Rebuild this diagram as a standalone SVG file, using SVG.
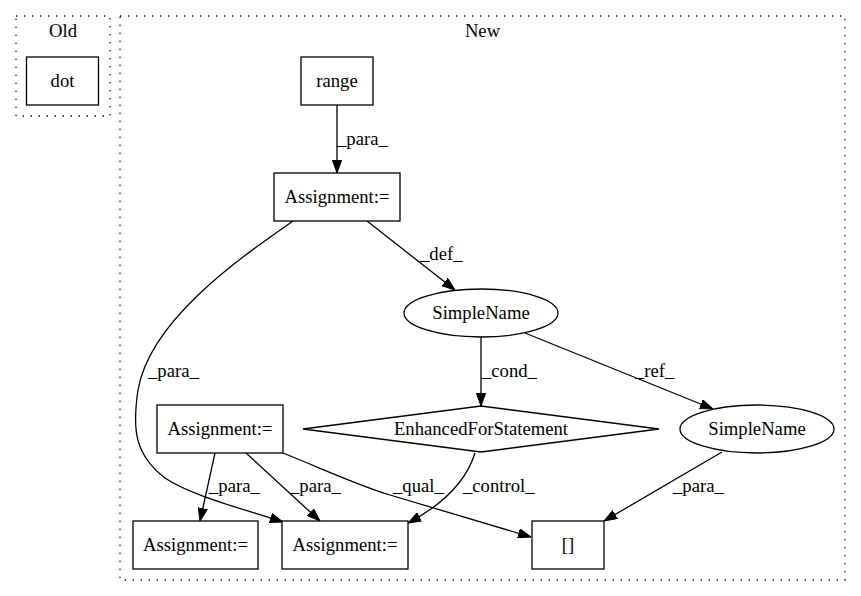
<svg xmlns="http://www.w3.org/2000/svg" width="861" height="596" viewBox="0 0 861 596">
<style>
text{font-family:"Liberation Serif","Times New Roman",serif;font-size:18.67px;fill:#000}
.c{text-anchor:middle}
.n{fill:#fff;stroke:#000;stroke-width:1.3}
.cl{fill:none;stroke:#000;stroke-width:1.3;stroke-dasharray:1.3,6.7}
.e{fill:none;stroke:#000;stroke-width:1.3}
</style>
<defs>
<marker id="ah" markerWidth="13" markerHeight="10" refX="13" refY="5" orient="auto" markerUnits="userSpaceOnUse">
<path d="M0,0.3 L13,5 L0,9.7 z" fill="#000" stroke="#000"/>
</marker>
</defs>
<rect width="861" height="596" fill="#fff"/>
<g id="cluster_old">
<rect class="cl" x="16" y="16" width="94" height="100"/>
<text class="c" x="63" y="37">Old</text>
</g>
<g id="cluster_new">
<rect class="cl" x="120" y="16" width="725" height="564"/>
<text class="c" x="482.5" y="37">New</text>
</g>
<g id="connectors">
<path class="e" marker-end="url(#ah)" d="M337,105 L337,173"/>
<text x="337" y="145">_para_</text>
<path class="e" marker-end="url(#ah)" d="M367,221 L455,290"/>
<text x="420" y="260">_def_</text>
<path class="e" marker-end="url(#ah)" d="M293,221 C240,258 150,320 138,390 C132,430 135,455 165,478 C190,495 240,508 283,522"/>
<text x="148" y="377">_para_</text>
<path class="e" marker-end="url(#ah)" d="M481,337 L481,406"/>
<text x="482" y="377">_cond_</text>
<path class="e" marker-end="url(#ah)" d="M525,333 L713,409"/>
<text x="635" y="377">_ref_</text>
<path class="e" marker-end="url(#ah)" d="M475,453 C466,482 442,505 408,523"/>
<text x="463" y="492">_control_</text>
<path class="e" marker-end="url(#ah)" d="M215,453 L200,521"/>
<text x="209" y="492">_para_</text>
<path class="e" marker-end="url(#ah)" d="M246,453 L320,521"/>
<text x="290" y="492">_para_</text>
<path class="e" marker-end="url(#ah)" d="M283,453 C330,472 360,486 390,495 L531,537"/>
<text x="393" y="492">_qual_</text>
<path class="e" marker-end="url(#ah)" d="M722,452 L604,521"/>
<text x="673" y="492">_para_</text>
</g>
<g id="node_dot">
<rect class="n" x="26.5" y="57" width="72" height="48"/>
<text class="c" x="62.5" y="87">dot</text>
</g>
<g id="node_range">
<rect class="n" x="301" y="57" width="72" height="48"/>
<text class="c" x="337" y="87">range</text>
</g>
<g id="node_assign1">
<rect class="n" x="274" y="173" width="126" height="48"/>
<text class="c" x="337" y="203">Assignment:=</text>
</g>
<g id="node_simplename1">
<ellipse class="n" cx="481" cy="313" rx="77" ry="24"/>
<text class="c" x="481" y="319">SimpleName</text>
</g>
<g id="node_enhancedfor">
<polygon class="n" points="481,406 659,429 481,452 303,429"/>
<text class="c" x="481" y="435">EnhancedForStatement</text>
</g>
<g id="node_simplename2">
<ellipse class="n" cx="757" cy="429" rx="77" ry="24"/>
<text class="c" x="757" y="435">SimpleName</text>
</g>
<g id="node_assign2">
<rect class="n" x="157" y="405" width="126" height="48"/>
<text class="c" x="220" y="435">Assignment:=</text>
</g>
<g id="node_assign3">
<rect class="n" x="133" y="521" width="125" height="48"/>
<text class="c" x="195.5" y="551">Assignment:=</text>
</g>
<g id="node_assign4">
<rect class="n" x="282" y="521" width="126" height="48"/>
<text class="c" x="345" y="551">Assignment:=</text>
</g>
<g id="node_index">
<rect class="n" x="532" y="521" width="72" height="48"/>
<text class="c" x="568" y="551">[]</text>
</g>
</svg>
